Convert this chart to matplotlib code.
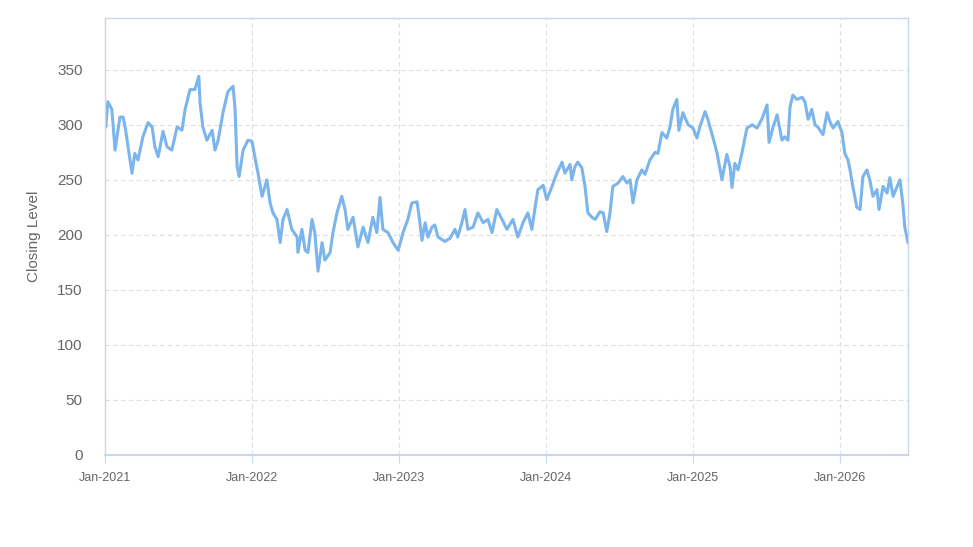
import matplotlib
matplotlib.use("Agg")
import matplotlib.pyplot as plt
import numpy as np
import pandas as pd

start_date = "2021-01-01"
day_offsets = [0, 2, 7, 17, 25, 37, 45, 50, 67, 74, 82, 94, 107, 117, 124, 132, 144, 154, 166, 179,
               191, 199, 211, 223, 233, 236, 243, 253, 266, 273, 281, 293, 305, 318, 323, 328, 333, 343, 355, 365,
               372, 380, 390, 402, 410, 417, 427, 435, 442, 452, 464, 477, 479, 489, 497, 504, 514, 521, 529, 539,
               546, 559, 566, 576, 588, 596, 603, 616, 628, 641, 653, 665, 675, 683, 690, 703, 715, 728, 740, 752,
               762, 775, 782, 787, 795, 802, 812, 819, 827, 844, 857, 869, 876, 886, 894, 901, 914, 926, 939, 951,
               961, 973, 986, 998, 1013, 1025, 1038, 1050, 1060, 1068, 1075, 1088, 1097, 1110, 1122, 1135, 1142, 1155, 1159, 1167,
               1174, 1184, 1192, 1199, 1209, 1217, 1229, 1237, 1246, 1254, 1261, 1274, 1286, 1296, 1304, 1311, 1321, 1333, 1341, 1353,
               1366, 1373, 1383, 1395, 1403, 1410, 1420, 1425, 1435, 1448, 1460, 1470, 1477, 1490, 1497, 1510, 1520, 1532, 1544, 1552,
               1557, 1564, 1572, 1582, 1594, 1607, 1619, 1631, 1644, 1649, 1659, 1669, 1681, 1688, 1696, 1701, 1708, 1718, 1731, 1738,
               1746, 1755, 1763, 1770, 1783, 1793, 1800, 1808, 1820, 1830, 1837, 1845, 1850, 1857, 1867, 1875, 1882, 1892, 1899, 1907,
               1917, 1922, 1932, 1942, 1949, 1957, 1967, 1974, 1981, 1986, 1994]
closing = [300, 298, 321, 314, 277, 307, 307, 298, 256, 274, 268, 289, 302, 298, 280, 271, 294, 280, 277, 298,
           295, 314, 332, 332, 344, 320, 298, 286, 295, 277, 286, 311, 330, 335, 314, 262, 253, 277, 286, 285,
           271, 256, 235, 250, 229, 220, 214, 193, 214, 223, 205, 198, 184, 205, 186, 184, 214, 202, 167, 193,
           177, 184, 202, 220, 235, 223, 205, 216, 189, 207, 193, 216, 202, 234, 205, 202, 193, 186, 202, 214,
           229, 230, 211, 195, 211, 198, 207, 209, 198, 194, 197, 205, 198, 211, 223, 205, 207, 220, 211, 214,
           202, 223, 214, 205, 214, 198, 211, 220, 205, 225, 241, 245, 232, 244, 256, 266, 256, 264, 250, 262,
           266, 261, 244, 220, 216, 214, 221, 220, 203, 220, 244, 247, 253, 247, 250, 229, 250, 259, 255, 268,
           275, 274, 293, 288, 298, 314, 323, 295, 311, 300, 297, 288, 298, 312, 305, 288, 274, 250, 273, 262,
           243, 265, 259, 275, 297, 300, 297, 305, 318, 284, 298, 309, 286, 289, 286, 316, 327, 323, 325, 321,
           305, 314, 300, 298, 291, 311, 303, 297, 303, 293, 274, 268, 259, 244, 225, 223, 253, 259, 250, 235,
           241, 223, 244, 238, 252, 235, 244, 250, 229, 207, 193]
x_tick_labels = ["Jan-2021", "Jan-2022", "Jan-2023", "Jan-2024", "Jan-2025", "Jan-2026"]
y_ticks = [0, 50, 100, 150, 200, 250, 300, 350]

dates = pd.Timestamp(start_date) + pd.to_timedelta(day_offsets, unit="D")

plt.rcParams['font.family'] = ['Liberation Sans', 'DejaVu Sans']
fig = plt.figure(figsize=(9.73, 5.47), dpi=100)
ax = fig.add_axes([105/973, 92/547, (908-105)/973, (455-18)/547])

ax.plot(dates, closing, color="#7cb5ec", lw=2.2, solid_joinstyle="round")

ax.set_ylim(0, 397)
ax.set_xlim(pd.Timestamp("2021-01-01"), dates[-1])
ax.set_yticks(y_ticks)
ax.set_yticklabels([str(v) for v in y_ticks], fontsize=11, color="#666666")
xt = [pd.Timestamp(f"{y}-01-01") for y in range(2021, 2027)]
ax.set_xticks(xt)
ax.set_xticklabels(x_tick_labels, fontsize=9, color="#666666")

ax.grid(True, color="#dddddd", linestyle=(0, (4, 3)), linewidth=0.8)
ax.set_axisbelow(True)
for side in ["top", "right", "left"]:
    ax.spines[side].set_color("#ccd6eb")
    ax.spines[side].set_linewidth(1.0)
ax.spines["bottom"].set_color("#ccd6eb")
ax.spines["bottom"].set_linewidth(1.5)
ax.tick_params(axis="y", length=0, pad=16)
ax.tick_params(axis="x", length=6, color="#ccd6eb", pad=6)
ax.set_ylabel("Closing Level", fontsize=11, color="#666666", labelpad=12)

fig.savefig("out.png", dpi=100)
